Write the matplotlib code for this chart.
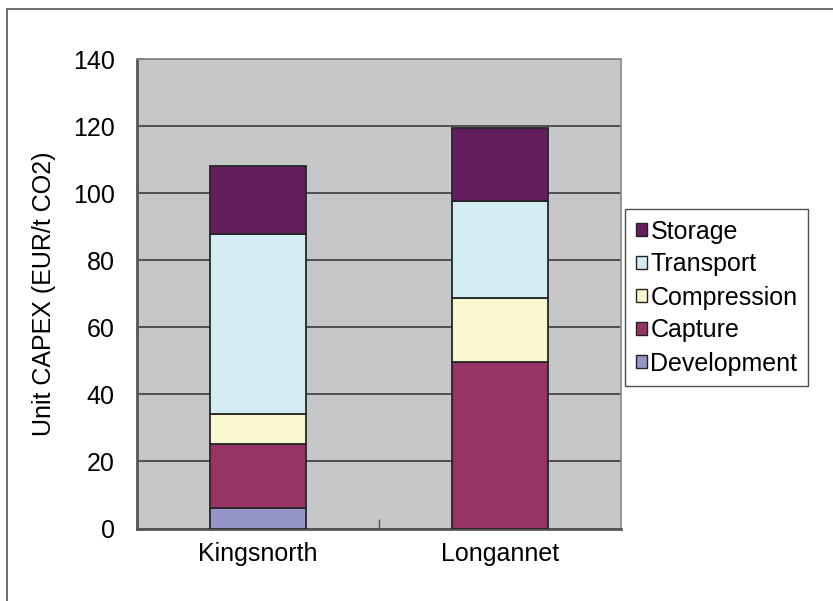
import numpy as np
import matplotlib
matplotlib.use('Agg')
import matplotlib.pyplot as plt
from matplotlib.patches import Rectangle

plt.rcParams['font.family'] = ['Liberation Sans', 'DejaVu Sans']

# unit CAPEX per component, EUR/t CO2
sites = ['Kingsnorth', 'Longannet']
components = ['Development', 'Capture', 'Compression', 'Transport', 'Storage']
development = [6.0, 0.0]
capture = [19.3, 49.6]
compression = [8.8, 19.2]
transport = [53.8, 29.0]
storage = [20.3, 21.6]
colours = ['#9595C8', '#983366', '#FAF8CE', '#D3ECF3', '#641E5F']

yticks = [0, 20, 40, 60, 80, 100, 120, 140]

fig = plt.figure(figsize=(8.33, 6.01), dpi=100)
ax = fig.add_axes([0.1645, 0.1206, 0.581, 0.7812])
ax.set_facecolor('#C6C7C9')

x = np.arange(len(sites))
bottom = np.zeros(len(sites))
bars = []
for name, vals, col in zip(components,
                           [development, capture, compression, transport, storage],
                           colours):
    b = ax.bar(x, vals, 0.4, bottom=bottom, color=col, edgecolor='#262626',
               linewidth=1.3, label=name, zorder=3)
    bars.append(b)
    bottom += np.array(vals)

ax.set_xlim(-0.5, 1.5)
ax.set_ylim(0, 140)
ax.set_yticks(yticks)
ax.set_xticks(x)
ax.set_xticklabels(sites)
ax.set_xticks([0.5], minor=True)
ax.tick_params(axis='x', which='major', length=0, labelsize=18, pad=10)
ax.tick_params(axis='x', which='minor', direction='in', length=7, width=1, color='#555555')
ax.tick_params(axis='y', direction='in', length=5, width=1.5, color='#555555',
               labelsize=18, pad=16)
ax.yaxis.grid(True, color='#3A3A3A', linewidth=1.2, zorder=1)
ax.set_axisbelow(True)
ax.set_ylabel('Unit CAPEX (EUR/t CO2)', fontsize=18, labelpad=12)

for side in ['top', 'right']:
    ax.spines[side].set_color('#8A8A8A')
    ax.spines[side].set_linewidth(1.2)
for side in ['left', 'bottom']:
    ax.spines[side].set_color('#555555')
    ax.spines[side].set_linewidth(2)

handles = bars[::-1]
labels = components[::-1]
leg = fig.legend(handles, labels, loc='upper left', bbox_to_anchor=(625 / 833, 1 - 209 / 601),
                 fontsize=18, frameon=True, fancybox=False, edgecolor='#222222',
                 handlelength=0.45, handleheight=0.45, handletextpad=0.15,
                 labelspacing=0.36, borderpad=0.42, borderaxespad=0)
leg.get_frame().set_linewidth(1.0)
for h in leg.legend_handles:
    h.set_edgecolor('#222222')
    h.set_linewidth(1.0)

# outer chart frame
fig.patches.append(Rectangle((7 / 833, -0.1), 1.2, 1.1 - 9 / 601, transform=fig.transFigure,
                             fill=False, edgecolor='#555555', linewidth=1.2))

fig.savefig('out.png', dpi=100)
